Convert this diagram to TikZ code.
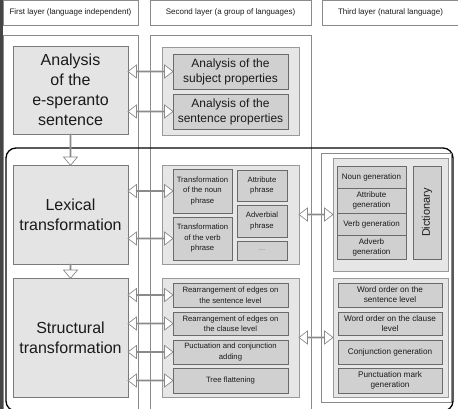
\documentclass[tikz,border=0pt]{standalone}
\usepackage{fontspec}
\setmainfont{Liberation Sans}
\usetikzlibrary{shapes.arrows,calc}
\definecolor{bigfill}{HTML}{E4E4E4}
\definecolor{bigdraw}{HTML}{7A7A7A}
\definecolor{grpfill}{HTML}{E6E6E6}
\definecolor{grpdraw}{HTML}{999999}
\definecolor{itemfill}{HTML}{D0D0D0}
\definecolor{itemdraw}{HTML}{6A6A6A}
\definecolor{paneldraw}{HTML}{8A8A8A}
\definecolor{txt}{HTML}{1A1A1A}
\definecolor{bar}{HTML}{454545}
\newcommand\mkbox[7]{\node[#2,anchor=north west,minimum width={(#5-#3)*1pt},minimum height={(#6-#4)*1pt}] (#1) at (#3,#4) {#7};}
\newcommand\harrow[2]{\path let \p1=(#1.east),\p2=(#2.west) in node[dblarrow,minimum height={\x2-\x1}] at ($(#1.east |- #2.west)!0.5!(#2.west)$) {};}
\newcommand\varrow[2]{\path let \p1=(#1.south),\p2=(#2.north) in node[downarrow,minimum height={\y1-\y2}] at ($(#1.south)!0.5!(#2.north)$) {};}
\begin{document}
\begin{tikzpicture}[x=1pt,y=-1pt,
  every node/.style={inner sep=0pt,outer sep=0pt,align=center,text=txt},
  header/.style={draw=paneldraw,fill=white,line width=0.7pt,font=\fontsize{8}{10}\selectfont},
  colpanel/.style={draw=paneldraw,fill=white,line width=0.7pt},
  bigbox/.style={draw=bigdraw,fill=bigfill,line width=0.7pt,font=\fontsize{16}{20}\selectfont},
  grp/.style={draw=grpdraw,fill=grpfill,line width=0.7pt},
  item/.style={draw=itemdraw,fill=itemfill,line width=0.7pt},
  anl/.style={item,font=\fontsize{12}{15}\selectfont},
  sml/.style={item,font=\fontsize{7.7}{10.5}\selectfont},
  gen/.style={item,font=\fontsize{8}{10}\selectfont},
  wo/.style={item,font=\fontsize{8.2}{10}\selectfont},
  frame/.style={draw=black,line width=1.3pt,rounded corners=10pt},
  dblarrow/.style={double arrow,draw=paneldraw,fill=white,line width=0.7pt,minimum width=13pt,double arrow head extend=3.5pt,double arrow tip angle=75},
  downarrow/.style={single arrow,shape border rotate=270,draw=paneldraw,fill=white,line width=0.7pt,minimum width=14pt,single arrow head extend=4pt,single arrow tip angle=80}
]
\useasboundingbox (0,0) rectangle (458,409);
\clip (0,0) rectangle (458,409);
\fill[bar] (0,0) rectangle (2.5,409);
% headers
\mkbox{h1}{header}{3}{0.5}{138}{25}{First layer (language independent)}
\mkbox{h2}{header}{150}{0.5}{311}{25}{Second layer (a group of languages)}
\mkbox{h3}{header}{322}{0.5}{459}{25}{Third layer (natural language)}
% column panels
\mkbox{c1}{colpanel}{3}{35}{138}{430}{}
\mkbox{c2}{colpanel}{150}{35}{311}{430}{}
% frame
\draw[frame] (6,148) rectangle (453,411);
\mkbox{c3}{colpanel}{321}{153}{451}{402}{}
% column 1
\mkbox{a1}{bigbox}{13}{46}{128}{134}{Analysis\\of the\\e-speranto\\sentence}
\mkbox{lx}{bigbox}{13}{165}{128}{264}{Lexical\\transformation}
\mkbox{st}{bigbox}{13}{278}{128}{397}{Structural\\transformation}
% column 2
\mkbox{g1}{grp}{162}{47}{299}{135}{}
\mkbox{s1}{anl}{173}{54}{288}{89}{Analysis of the\\subject properties}
\mkbox{s2}{anl}{173}{94}{288}{129}{Analysis of the\\sentence properties}
\mkbox{g2}{grp}{162}{165}{299}{264}{}
\mkbox{tn}{sml}{173}{169}{232}{213}{Transformation\\of the noun\\phrase}
\mkbox{tv}{sml}{173}{217}{232}{260}{Transformation\\of the verb\\phrase}
\mkbox{ap}{sml}{237}{170}{287}{201}{Attribute\\phrase}
\mkbox{dp}{sml}{237}{205}{287}{237}{Adverbial\\phrase}
\mkbox{dt}{sml}{237}{241}{287}{260}{\textcolor{gray}{...}}
\mkbox{g3}{grp}{162}{278}{299}{397}{}
\mkbox{r1}{sml}{173}{283}{288}{307}{Rearrangement of edges on\\the sentence level}
\mkbox{r2}{sml}{173}{312}{288}{335}{Rearrangement of edges on\\the clause level}
\mkbox{r3}{sml}{173}{340}{288}{364}{Puctuation and conjunction\\adding}
\mkbox{r4}{sml}{173}{368}{288}{393}{Tree flattening}
% column 3
\mkbox{g5}{grp}{333}{158}{448}{271}{}
\mkbox{ng}{gen}{337}{166}{406}{188}{Noun generation}
\mkbox{ag}{gen}{337}{188}{406}{213}{Attribute\\generation}
\mkbox{vg}{gen}{337}{213}{406}{235}{Verb generation}
\mkbox{dg}{gen}{337}{235}{406}{259}{Adverb\\generation}
\mkbox{dict}{item}{413}{166}{441}{259}{}
\node[rotate=90,font=\fontsize{11}{13}\selectfont] (dictlbl) at (dict.center) {Dictionary};
\mkbox{g6}{grp}{333}{278}{448}{397}{}
\mkbox{w1}{wo}{338}{283}{442}{307}{Word order on the\\sentence level}
\mkbox{w2}{wo}{338}{312}{442}{335}{Word order on the clause\\level}
\mkbox{w3}{wo}{338}{340}{442}{364}{Conjunction generation}
\mkbox{w4}{wo}{338}{368}{442}{393}{Punctuation mark\\generation}
% arrows
\varrow{a1}{lx}
\varrow{lx}{st}
\harrow{a1}{s1}
\harrow{a1}{s2}
\harrow{lx}{tn}
\harrow{lx}{tv}
\harrow{st}{r1}
\harrow{st}{r2}
\harrow{st}{r3}
\harrow{st}{r4}
\harrow{g2}{g5}
\harrow{g3}{g6}
\end{tikzpicture}
\end{document}
